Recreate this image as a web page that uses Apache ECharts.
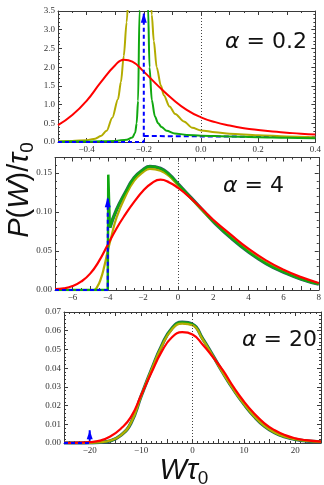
<!DOCTYPE html>
<html>
<head>
<meta charset="utf-8">
<script src="https://cdn.jsdelivr.net/npm/echarts@6/dist/echarts.min.js"></script>
<style>
  html, body { margin: 0; padding: 0; background: #fff; }
  #chart { width: 324px; height: 485px; }
</style>
</head>
<body>
<div id="chart"></div>
<script>
// alpha = 0.2 panel as [W*tau0, P/tau0]
const red02 = [[-0.5,0.45],[-0.45,0.72],[-0.4,1.1],[-0.35,1.6],[-0.3,2.05],[-0.27,2.2],[-0.24,2.15],[-0.2,1.88],[-0.15,1.5],[-0.1,1.15],[-0.05,0.86],[0,0.66],[0.05,0.53],[0.1,0.44],[0.15,0.37],[0.2,0.32],[0.25,0.28],[0.3,0.25],[0.35,0.22],[0.4,0.2]];
const olive02 = [[-0.5,0.02],[-0.45,0.03],[-0.4,0.05],[-0.37,0.09],[-0.35,0.16],[-0.33,0.3],[-0.31,0.65],[-0.29,1.15],[-0.28,1.6],[-0.27,2.3],[-0.26,3.2],[-0.25,4.4],[-0.215,7],[-0.18,4.4],[-0.172,3.4],[-0.165,2.7],[-0.155,2.0],[-0.14,1.5],[-0.13,1.25],[-0.11,0.95],[-0.09,0.75],[-0.06,0.55],[-0.03,0.38],[0,0.31],[0.05,0.26],[0.1,0.22],[0.2,0.18],[0.3,0.15],[0.4,0.13]];
const green02 = [[-0.5,0.01],[-0.4,0.015],[-0.3,0.03],[-0.26,0.06],[-0.24,0.12],[-0.23,0.25],[-0.225,0.5],[-0.22,1.1],[-0.215,3.5],[-0.2,9],[-0.185,3.6],[-0.18,2.0],[-0.172,1.12],[-0.161,0.68],[-0.15,0.5],[-0.138,0.4],[-0.12,0.3],[-0.092,0.23],[-0.05,0.19],[0,0.17],[0.1,0.15],[0.2,0.13],[0.3,0.115],[0.4,0.1]];
const blueTail02 = [[-0.2,0.16],[0,0.15],[0.2,0.14],[0.4,0.13]];
const delta02 = { from: -0.5, at: -0.2, top: 3.45 };

// alpha = 4 panel
const red4 = [[-7,0.001],[-6.5,0.002],[-6,0.005],[-5.5,0.011],[-5,0.021],[-4.5,0.037],[-4,0.058],[-3.5,0.079],[-3,0.097],[-2.5,0.113],[-2,0.127],[-1.5,0.137],[-1,0.1415],[-0.5,0.138],[0,0.131],[0.5,0.122],[1,0.112],[1.5,0.101],[2,0.09],[3,0.071],[4,0.053],[5,0.038],[6,0.026],[7,0.0165],[8,0.009]];
const olive4 = [[-7,0],[-4.8,0],[-4.6,0.004],[-4.4,0.014],[-4.2,0.03],[-4,0.05],[-3.8,0.068],[-3.5,0.093],[-3,0.12],[-2.5,0.14],[-2,0.151],[-1.6,0.1555],[-1,0.153],[-0.5,0.146],[0,0.134],[0.5,0.123],[1,0.111],[1.5,0.099],[2,0.088],[3,0.068],[4,0.05],[5,0.035],[6,0.024],[7,0.0145],[8,0.0078]];
const greenSpike4 = [[-7,0],[-4,0],[-3.97,0.148],[-3.92,0.148],[-3.88,0.08]];
const green4 = [[-3.88,0.08],[-3.5,0.103],[-3,0.125],[-2.5,0.144],[-2,0.154],[-1.6,0.1585],[-1,0.156],[-0.5,0.148],[0,0.136],[0.5,0.124],[1,0.112],[1.5,0.1],[2,0.088],[3,0.067],[4,0.049],[5,0.034],[6,0.023],[7,0.014],[8,0.0075]];
const delta4 = { from: -7, at: -4, top: 0.119 };

// alpha = 20 panel
const red20 = [[-25,0.0001],[-22,0.0002],[-20,0.0005],[-18,0.0013],[-16,0.0035],[-14,0.0075],[-12,0.0138],[-10,0.0255],[-8,0.0375],[-6,0.0488],[-4,0.0565],[-2,0.0592],[0,0.058],[2,0.0525],[4,0.0458],[6,0.0385],[8,0.0298],[10,0.0222],[12,0.0158],[14,0.0105],[16,0.0068],[18,0.0042],[20,0.0025],[22,0.0015],[25,0.0007]];
const olive20 = [[-25,0],[-22,0],[-20,0.0001],[-18,0.0004],[-16,0.0013],[-14,0.004],[-12,0.0107],[-10,0.0251],[-8,0.0389],[-6,0.0516],[-4,0.0607],[-2,0.0638],[0,0.0629],[2,0.0552],[4,0.0463],[6,0.0371],[8,0.0285],[10,0.0209],[12,0.0143],[14,0.0091],[16,0.0056],[18,0.0034],[20,0.002],[22,0.0012],[25,0.0006]];
const green20 = [[-25,0],[-22,0],[-20,0.0001],[-18,0.0004],[-16,0.0012],[-14,0.004],[-12,0.0105],[-10,0.025],[-8,0.039],[-6,0.052],[-4,0.0613],[-2,0.0645],[0,0.0635],[2,0.0556],[4,0.0465],[6,0.0372],[8,0.0285],[10,0.0208],[12,0.0142],[14,0.009],[16,0.0055],[18,0.0033],[20,0.0019],[22,0.0011],[25,0.0006]];
const delta20 = { from: -25, at: -20, top: 0.0068 };

// axes: [min, max, tick step, label step, digits, minor split]
const xAxes = [[-0.5, 0.4, 0.1, 0.2, 1, 2], [-7, 8, 1, 2, 0, 2], [-25, 25, 5, 10, 0, 5]];
const yAxes = [[0, 3.5, 0.5, 0.5, 1, 5], [0, 0.17, 0.05, 0.05, 2, 5], [0, 0.07, 0.01, 0.01, 2, 5]];
const alphaLabels = ['0.2', '4', '20'];

const RED = '#ff0000', OLIVE = '#b3ac00', GREEN = '#10a810', BLUE = '#0000ff';
const ink = '#3a3a3a';

const grids = [
  { left: 58, top: 11, width: 264, height: 131 },
  { left: 55, top: 157.5, width: 267, height: 132.5 },
  { left: 64, top: 312, width: 259.5, height: 131 },
];

function fmt(step, digits) {
  return v => {
    const k = v / step;
    if (Math.abs(k - Math.round(k)) > 1e-6) return '';
    const s = Math.abs(v).toFixed(digits);
    return v < -1e-9 ? '\u2212' + s : s;
  };
}

function axis(gi, position, cfg, labels) {
  const [min, max, interval, labelStep, digits, split] = cfg;
  return {
    type: 'value', gridIndex: gi, position, min, max, interval,
    axisLine: { show: true, onZero: false, lineStyle: { color: ink, width: 1 } },
    axisTick: { show: true, inside: true, length: 4, lineStyle: { color: ink, width: 1 } },
    minorTick: { show: true, splitNumber: split, length: 2, lineStyle: { color: ink, width: 1 } },
    splitLine: { show: false },
    axisLabel: {
      show: labels, fontFamily: 'Liberation Serif', fontSize: 9, color: '#333', margin: 3,
      showMinLabel: true, showMaxLabel: true, formatter: fmt(labelStep, digits),
    },
  };
}

const xAxis = [], yAxis = [];
grids.forEach((g, i) => {
  xAxis.push(axis(i, 'bottom', xAxes[i], true), axis(i, 'top', xAxes[i], false));
  yAxis.push(axis(i, 'left', yAxes[i], true), axis(i, 'right', yAxes[i], false));
});

function curve(gi, data, color, width, z, extra) {
  return Object.assign({
    type: 'line', xAxisIndex: 2 * gi, yAxisIndex: 2 * gi, data,
    symbol: 'none', showSymbol: false, smooth: 0.5,
    clip: true, silent: true, z,
    lineStyle: { color, width },
  }, extra || {});
}

function deltaArrow(gi, d, size) {
  return {
    type: 'line', xAxisIndex: 2 * gi, yAxisIndex: 2 * gi, silent: true, z: 10,
    symbol: 'none', showSymbol: true, smooth: false, clip: false,
    lineStyle: { color: BLUE, width: 2, type: [4, 3] },
    itemStyle: { color: BLUE },
    data: [[d.from, 0], [d.at, 0],
      { value: [d.at, d.top], symbol: 'triangle', symbolSize: size, symbolOffset: [0, '50%'] }],
  };
}

const zeroLine = {
  silent: true, symbol: ['none', 'none'], label: { show: false },
  lineStyle: { type: [1, 2], color: '#444', width: 1 },
  data: [{ xAxis: 0 }],
};

const spiky = { smooth: 0.3, smoothMonotone: 'x' };
const outline = { color: '#2b5d6b', width: 3.4 };

const series = [
  // alpha = 0.2
  curve(0, blueTail02, BLUE, 2, 1, { smooth: false, lineStyle: { color: BLUE, width: 2, type: [5, 3] }, markLine: zeroLine }),
  curve(0, olive02, OLIVE, 2, 3, spiky),
  curve(0, green02, GREEN, 2, 4, spiky),
  curve(0, red02, RED, 2, 5),
  deltaArrow(0, delta02, [6, 10]),
  // alpha = 4
  curve(1, green4, BLUE, 3, 1, { lineStyle: outline, markLine: zeroLine }),
  curve(1, olive4, OLIVE, 2.2, 3),
  curve(1, green4, GREEN, 2.2, 4),
  curve(1, greenSpike4, GREEN, 2.5, 4, { smooth: false }),
  curve(1, red4, RED, 2.2, 6),
  deltaArrow(1, delta4, [6, 10]),
  // alpha = 20
  curve(2, green20, BLUE, 3, 1, { lineStyle: outline, markLine: zeroLine }),
  curve(2, green20, GREEN, 2.2, 3),
  curve(2, olive20, OLIVE, 2.2, 4),
  curve(2, red20, RED, 2.2, 6),
  deltaArrow(2, delta20, [6, 9]),
];

const labelPos = [[225, 42], [223, 186], [242, 340]];
const graphic = alphaLabels.map((a, i) => ({
  type: 'text', x: labelPos[i][0], y: labelPos[i][1], silent: true, z: 20,
  style: {
    text: '{a|\u03b1} = ' + a, fill: '#111', fontFamily: 'DejaVu Sans', fontSize: 22,
    verticalAlign: 'middle', align: 'left',
    rich: { a: { fontFamily: 'DejaVu Sans', fontStyle: 'italic', fontSize: 22, fill: '#111' } },
  },
}));

const titleRich = {
  i: { fontFamily: 'Liberation Sans', fontStyle: 'italic', fontSize: 29, lineHeight: 34, fill: '#111' },
  n: { fontFamily: 'Liberation Sans', fontSize: 29, lineHeight: 34, fill: '#111' },
  s: { fontFamily: 'Liberation Sans', fontSize: 19, lineHeight: 15, verticalAlign: 'bottom', fill: '#111' },
};
graphic.push({
  type: 'text', x: 20, y: 190, rotation: Math.PI / 2, silent: true,
  style: { text: '{i|P}{n|(}{i|W}{n|)/}{i|\u03c4}{s|0}', align: 'center', verticalAlign: 'middle', rich: titleRich },
});
graphic.push({
  type: 'text', x: 184, y: 471, silent: true,
  style: { text: '{i|W}{i|\u03c4}{s|0}', align: 'center', verticalAlign: 'middle', rich: titleRich },
});

const chart = echarts.init(document.getElementById('chart'), null, { renderer: 'canvas' });
chart.setOption({
  animation: false,
  backgroundColor: '#fff',
  grid: grids,
  xAxis, yAxis, series, graphic,
});
</script>
</body>
</html>
